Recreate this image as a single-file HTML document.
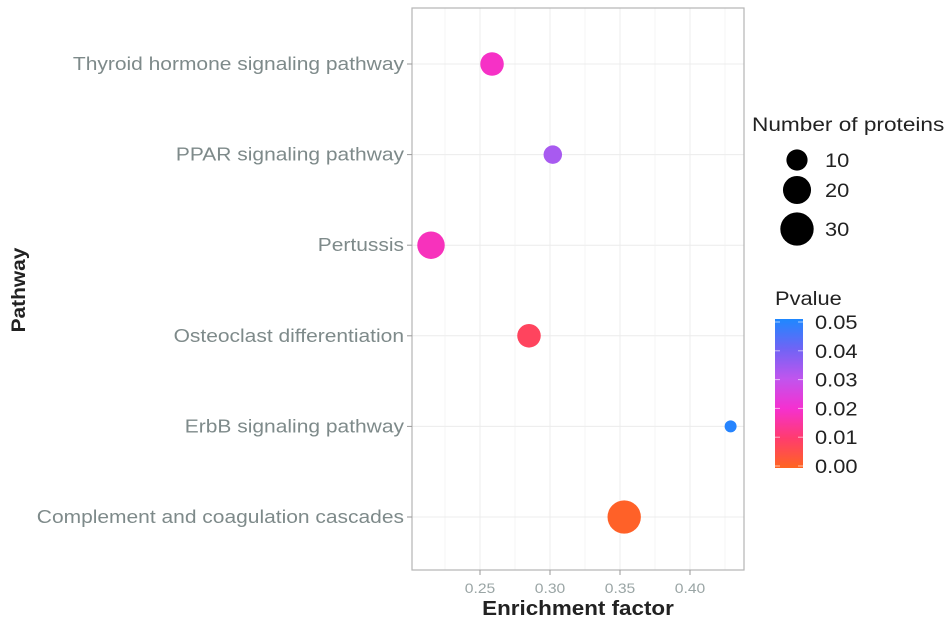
<!DOCTYPE html>
<html><head><meta charset="utf-8"><style>
body{margin:0;background:#fff;font-family:"Liberation Sans",Arial,sans-serif}
svg text{font-family:"Liberation Sans",Arial,sans-serif}
</style></head><body>
<svg id="c" width="945" height="631" xmlns="http://www.w3.org/2000/svg">
<defs><linearGradient id="pg" x1="0" y1="1" x2="0" y2="0">
<stop offset="0" stop-color="#FF6520"/><stop offset="0.2" stop-color="#FF3C6E"/><stop offset="0.4" stop-color="#F530D0"/><stop offset="0.6" stop-color="#C055EE"/><stop offset="0.8" stop-color="#7064F5"/><stop offset="1" stop-color="#1E88FF"/></linearGradient></defs>
</svg>
<script>
const categories=["Complement and coagulation cascades","ErbB signaling pathway","Osteoclast differentiation","Pertussis","PPAR signaling pathway","Thyroid hormone signaling pathway"];
const enrichment=[0.353,0.429,0.285,0.215,0.302,0.2586];
const counts=[30,2,13,19,7,13];
const pvalues=[0.001,0.049,0.008,0.018,0.033,0.019];
const xTicks=[0.25,0.30,0.35,0.40];
const xTickLabels=["0.25","0.30","0.35","0.40"];
const sizeLegend=[10,20,30];
const pTicks=[0,0.01,0.02,0.03,0.04,0.05];
const pTickLabels=["0.00","0.01","0.02","0.03","0.04","0.05"];

const svg=document.getElementById('c');const NS="http://www.w3.org/2000/svg";
function mk(t,a,p){const e=document.createElementNS(NS,t);for(const k in a)e.setAttribute(k,a[k]);(p||svg).appendChild(e);return e;}
function stretch(e,f){const w=e.getComputedTextLength();e.setAttribute('textLength',(w*f).toFixed(1));e.setAttribute('lengthAdjust','spacingAndGlyphs');}
const L=412,R=744,T=8,B=570;
const xs=v=>480+(v-0.25)*1400;
const ys=i=>517-i*90.6;
const rs=n=>2.63*Math.sqrt(n)+2.28;
const stops=[[0,[255,101,32]],[0.01,[255,60,110]],[0.02,[245,48,208]],[0.03,[192,85,238]],[0.04,[112,100,245]],[0.05,[30,136,255]]];
function col(p){for(let i=0;i<stops.length-1;i++){const a=stops[i],b=stops[i+1];if(p<=b[0]||i==stops.length-2){const t=Math.max(0,Math.min(1,(p-a[0])/(b[0]-a[0])));return 'rgb('+a[1].map((c,j)=>Math.round(c+(b[1][j]-c)*t)).join(',')+')';}}}
for(let v=0.225;v<0.44;v+=0.05){const g=mk('line',{x1:xs(v),x2:xs(v),y1:T,y2:B,stroke:'#f6f6f6','stroke-width':1});}
xTicks.forEach(v=>{const g=mk('line',{x1:xs(v),x2:xs(v),y1:T,y2:B,stroke:'#ececec','stroke-width':1});});
categories.forEach((c,i)=>{const g=mk('line',{x1:L,x2:R,y1:ys(i),y2:ys(i),stroke:'#ececec','stroke-width':1});});
const fr=mk('rect',{x:L,y:T,width:R-L,height:B-T,fill:'none',stroke:'#b5b5b5','stroke-width':1.2});

categories.forEach((c,i)=>{const tk=mk('line',{x1:L-5,x2:L,y1:ys(i),y2:ys(i),stroke:'#999'});
const t=mk('text',{x:L-8,y:ys(i)+6,'text-anchor':'end','font-size':18,fill:'#7e8a8a'});t.textContent=c;stretch(t,1.165);});
xTicks.forEach((v,i)=>{const tk=mk('line',{x1:xs(v),x2:xs(v),y1:B,y2:B+5,stroke:'#999'});
const t=mk('text',{x:xs(v),y:B+23,'text-anchor':'middle','font-size':14,fill:'#9aa5a5'});t.textContent=xTickLabels[i];stretch(t,1.12);});
categories.forEach((c,i)=>{const p=mk('circle',{cx:xs(enrichment[i]),cy:ys(i),r:rs(counts[i]),fill:col(pvalues[i])});});
let t=mk('text',{x:578,y:615,'text-anchor':'middle','font-size':20,'font-weight':'bold',fill:'#222'});t.textContent='Enrichment factor';stretch(t,1.12);
t=mk('text',{x:25,y:290,'text-anchor':'middle','font-size':19,'font-weight':'bold',fill:'#222',transform:'rotate(-90 25 290)'});t.textContent='Pathway';stretch(t,1.1);
t=mk('text',{x:752,y:131,'font-size':19,fill:'#222'});t.textContent='Number of proteins';stretch(t,1.19);
const lyy=[160,190,229];
sizeLegend.forEach((n,i)=>{const c=mk('circle',{cx:797,cy:lyy[i],r:rs(n),fill:'#000'});
const l=mk('text',{x:825,y:lyy[i]+7,'font-size':19,fill:'#222'});l.textContent=n;stretch(l,1.15);});
t=mk('text',{x:775,y:305,'font-size':19,fill:'#222'});t.textContent='Pvalue';stretch(t,1.15);
const cb=mk('rect',{x:775,y:319,width:28,height:149,fill:'url(#pg)'});
const py=p=>466-p/0.05*144;
pTicks.forEach((p,i)=>{mk('line',{x1:775,x2:780,y1:py(p),y2:py(p),stroke:'#fff','stroke-opacity':0.6});mk('line',{x1:798,x2:803,y1:py(p),y2:py(p),stroke:'#fff','stroke-opacity':0.6});
const l=mk('text',{x:815,y:py(p)+7,'font-size':19,fill:'#222'});l.textContent=pTickLabels[i];stretch(l,1.15);});
</script>
</body></html>
